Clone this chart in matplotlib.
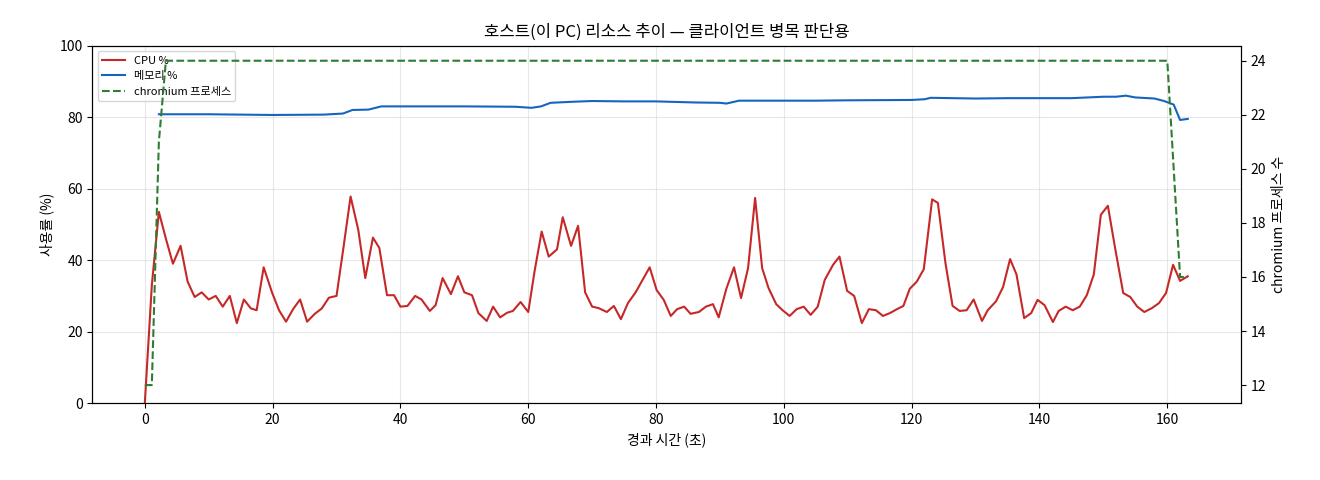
import matplotlib
matplotlib.use("Agg")
import matplotlib.pyplot as plt

plt.rcParams['font.family'] = ['Noto Sans CJK KR', 'DejaVu Sans']

t = [0, 1.1, 2.2, 3.3, 4.4, 5.6, 6.7, 7.8, 8.9, 10, 11.1, 12.2, 13.3, 14.4, 15.5, 16.6, 17.5, 18.6,
     19.9, 21, 22.1, 23.2, 24.3, 25.4, 26.6, 27.7, 28.8, 30, 31.1, 32.2, 33.4, 34.5, 35.7, 36.7,
     37.9, 39, 40, 41.1, 42.3, 43.3, 44.6, 45.5, 46.6, 47.9, 49, 50, 51.2, 52.2, 53.5, 54.5, 55.6,
     56.7, 57.6, 58.8, 60, 61, 62.1, 63.2, 64.5, 65.4, 66.7, 67.8, 68.9, 70, 71, 72.3, 73.4, 74.5,
     75.6, 76.8, 77.9, 79, 80.1, 81.2, 82.3, 83.3, 84.4, 85.4, 86.7, 87.8, 88.9, 89.8, 91, 92.2,
     93.3, 94.4, 95.5, 96.6, 97.6, 98.8, 99.8, 100.9, 102, 103.1, 104.2, 105.3, 106.4, 107.7, 108.7,
     109.9, 111, 112.2, 113.3, 114.4, 115.5, 116.6, 117.7, 118.7, 119.7, 120.8, 121.9, 123.2, 124.1,
     125.3, 126.4, 127.5, 128.6, 129.7, 131, 131.9, 133.2, 134.3, 135.4, 136.4, 137.6, 138.7, 139.7,
     140.8, 142.1, 143, 144.1, 145.2, 146.3, 147.4, 148.5, 149.6, 150.7, 151.8, 153.1, 154.2, 155.3,
     156.4, 157.6, 158.7, 159.8, 160.9, 162, 163.2]
cpu = [0, 33, 53.5, 46, 39, 44, 34, 29.7, 31, 29, 30, 27, 30, 22.4, 29, 26.5, 26, 38,
       31, 26, 22.8, 26.3, 29, 22.8, 25, 26.5, 29.5, 30, 43.7, 57.8, 48.5, 35, 46.3, 43.4,
       30.2, 30.2, 27, 27.2, 30, 29, 25.8, 27.4, 35, 30.5, 35.5, 31, 30.2, 25.2, 23, 27, 24,
       25.3, 25.8, 28.3, 25.5, 37, 48, 41, 43, 52, 44, 49.6, 31, 27, 26.6, 25.5, 27.2, 23.5,
       28, 31, 34.5, 38, 31.6, 28.9, 24.4, 26.3, 27, 25, 25.5, 27, 27.7, 24, 32, 38,
       29.4, 37.8, 57.4, 37.8, 32.2, 27.7, 26, 24.4, 26.3, 27, 24.7, 27, 34.5, 38.7, 41,
       31.4, 30, 22.4, 26.3, 26, 24.4, 25.2, 26.3, 27.2, 32, 34, 37.5, 57, 56,
       39, 27.2, 25.8, 26, 29, 23, 26, 28.5, 32.5, 40.3, 36, 23.8, 25.2, 28.9,
       27.4, 22.7, 25.8, 27, 26, 27, 30.2, 36, 52.7, 55.2, 43.7, 30.8, 29.7, 27,
       25.5, 26.6, 28, 30.8, 38.7, 34.2, 35.5]

mem_t = [2.2, 10, 20, 28, 31, 32.5, 35, 37, 45, 50, 58, 60.5, 62, 63.5, 67, 70, 75, 80, 82,
         86, 90, 91, 93, 97, 105, 110, 120, 122, 123, 130, 135, 145, 150, 152, 153.5, 155, 158,
         159.5, 161, 162, 163.2]
mem = [80.8, 80.8, 80.6, 80.7, 81, 82, 82.1, 83, 83, 83, 82.9, 82.6, 83, 84, 84.3, 84.5, 84.4,
       84.4, 84.3, 84.1, 84, 83.8, 84.6, 84.6, 84.6, 84.7, 84.8, 85, 85.4, 85.2, 85.3, 85.3,
       85.7, 85.7, 86, 85.5, 85.2, 84.5, 83.5, 79.2, 79.5]

proc_t = [0, 1.1, 2.2, 3.3, 160, 161, 162, 163.2]
procs = [12, 12, 21, 24, 24, 20, 16, 16]

fig, ax = plt.subplots(figsize=(13.2, 4.8), dpi=100)
l1, = ax.plot(t, cpu, color='#c62828', lw=1.5, label='CPU %')
l2, = ax.plot(mem_t, mem, color='#1565c0', lw=1.5, label='메모리 %')
ax.set_ylim(0, 100)
ax.set_xlim(-8.2, 171.5)
ax.set_xlabel('경과 시간 (초)')
ax.set_ylabel('사용률 (%)')
ax.grid(True, color='#dddddd', lw=0.8, alpha=0.7)
ax.set_title('호스트(이 PC) 리소스 추이 — 클라이언트 병목 판단용')

ax2 = ax.twinx()
l3, = ax2.plot(proc_t, procs, color='#2e7d32', lw=1.5, ls='--', label='chromium 프로세스')
ax2.set_ylim(11.33, 24.56)
ax2.set_yticks(range(12, 25, 2))
ax2.set_ylabel('chromium 프로세스 수')

ax.legend(handles=[l1, l2, l3], loc='upper left', fontsize=8)
fig.subplots_adjust(left=0.07, right=0.94, top=0.905, bottom=0.16)
fig.savefig('out.png')
